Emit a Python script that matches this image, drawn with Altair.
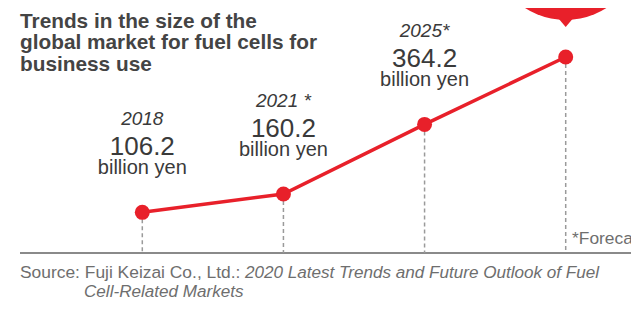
import altair as alt
import pandas as pd

# ---- data ----
years = ["2018", "2021", "2025", "2030"]
values = [106.2, 160.2, 364.2, 562.0]
year_labels = ["2018", "2021 *", "2025*", ""]
value_labels = ["106.2", "160.2", "364.2", ""]
unit_labels = ["billion yen", "billion yen", "billion yen", ""]
title_lines = ["Trends in the size of the", "global market for fuel cells for", "business use"]
source_lead = "Source: Fuji Keizai Co., Ltd.:"
source_title_1 = "2020 Latest Trends and Future Outlook of Fuel"
source_title_2 = "Cell-Related Markets"
footnote = "*Forecast"
axis_floor = -13

RED = "#e8202a"
FONT = "Liberation Sans"
DARK = "#3a3a3a"
GREY = "#6e6e6e"

df = pd.DataFrame({
    "year": years,
    "value": values,
    "year_label": year_labels,
    "value_label": value_labels,
    "unit_label": unit_labels,
})
lab = df[df["year_label"] != ""]

xs = alt.Scale(type="point", domain=years, range=[134.3, 557.7], padding=0)
ys = alt.Scale(domain=[axis_floor, 600], range=[245, 36])
X = alt.X("year:N", scale=xs, axis=None)
Y = alt.Y("value:Q", scale=ys, axis=None)

base = alt.Chart(df)

drops = base.mark_rule(color="#9a9a9a", strokeWidth=1.5, strokeDash=[4, 3]).encode(
    x=X, y=Y, y2=alt.datum(axis_floor)
)
floor = alt.Chart(pd.DataFrame({"v": [axis_floor]})).mark_rule(color="#8a8a8a", strokeWidth=2).encode(
    y=alt.Y("v:Q", scale=ys, axis=None), x=alt.value(12), x2=alt.value(640)
)
line = base.mark_line(color=RED, strokeWidth=3.5).encode(x=X, y=Y)
pts = base.mark_point(filled=True, shape="circle", size=225, color=RED, opacity=1, strokeWidth=0).encode(x=X, y=Y)

balloon_df = pd.DataFrame({"year": [years[-1]]})
balloon = alt.Chart(balloon_df).mark_point(
    filled=True, shape="circle", size=22500, color=RED, opacity=1, strokeWidth=0
).encode(x=X, y=alt.value(-63))
pointer = alt.Chart(balloon_df).mark_point(
    filled=True, shape="M-1.7,-1L1.7,-1L0,1Z", size=256, color=RED, opacity=1, strokeWidth=0
).encode(x=X, y=alt.value(11))

lab_base = alt.Chart(lab)
yr = lab_base.mark_text(font=FONT, fontSize=19, fontStyle="italic", color=DARK, dy=-87, baseline="alphabetic").encode(
    x=X, y=Y, text="year_label:N"
)
val = lab_base.mark_text(font=FONT, fontSize=26, color=DARK, dy=-57, baseline="alphabetic").encode(
    x=X, y=Y, text="value_label:N"
)
unit = lab_base.mark_text(font=FONT, fontSize=20, color=DARK, dy=-38, baseline="alphabetic").encode(
    x=X, y=Y, text="unit_label:N"
)

title = alt.Chart(pd.DataFrame({"t": ["\n".join(title_lines)]})).mark_text(
    font=FONT, fontSize=20.8, fontWeight="bold", color="#444444", align="left",
    baseline="alphabetic", lineBreak="\n", lineHeight=21.5
).encode(text="t:N", x=alt.value(12), y=alt.value(19.7))

def note(txt, x, y, italic=False, size=17.4):
    return alt.Chart(pd.DataFrame({"t": [txt]})).mark_text(
        font=FONT, fontSize=size, color=GREY, align="left", baseline="alphabetic",
        fontStyle="italic" if italic else "normal"
    ).encode(text="t:N", x=alt.value(x), y=alt.value(y))

src1 = note(source_lead, 12, 270)
src2 = note(source_title_1, 237, 270, italic=True, size=17.1)
src3 = note(source_title_2, 76, 289, italic=True, size=17.1)
fn = note(footnote, 564, 236)

chart = alt.layer(
    floor, drops, balloon, pointer, line, pts, yr, val, unit, title, src1, src2, src3, fn
).properties(
    width=623, height=293, autosize=alt.AutoSizeParams(type="none"), padding=0
).configure_view(stroke=None)

chart.save("out.html", embed_options={"renderer": "svg", "actions": False})
